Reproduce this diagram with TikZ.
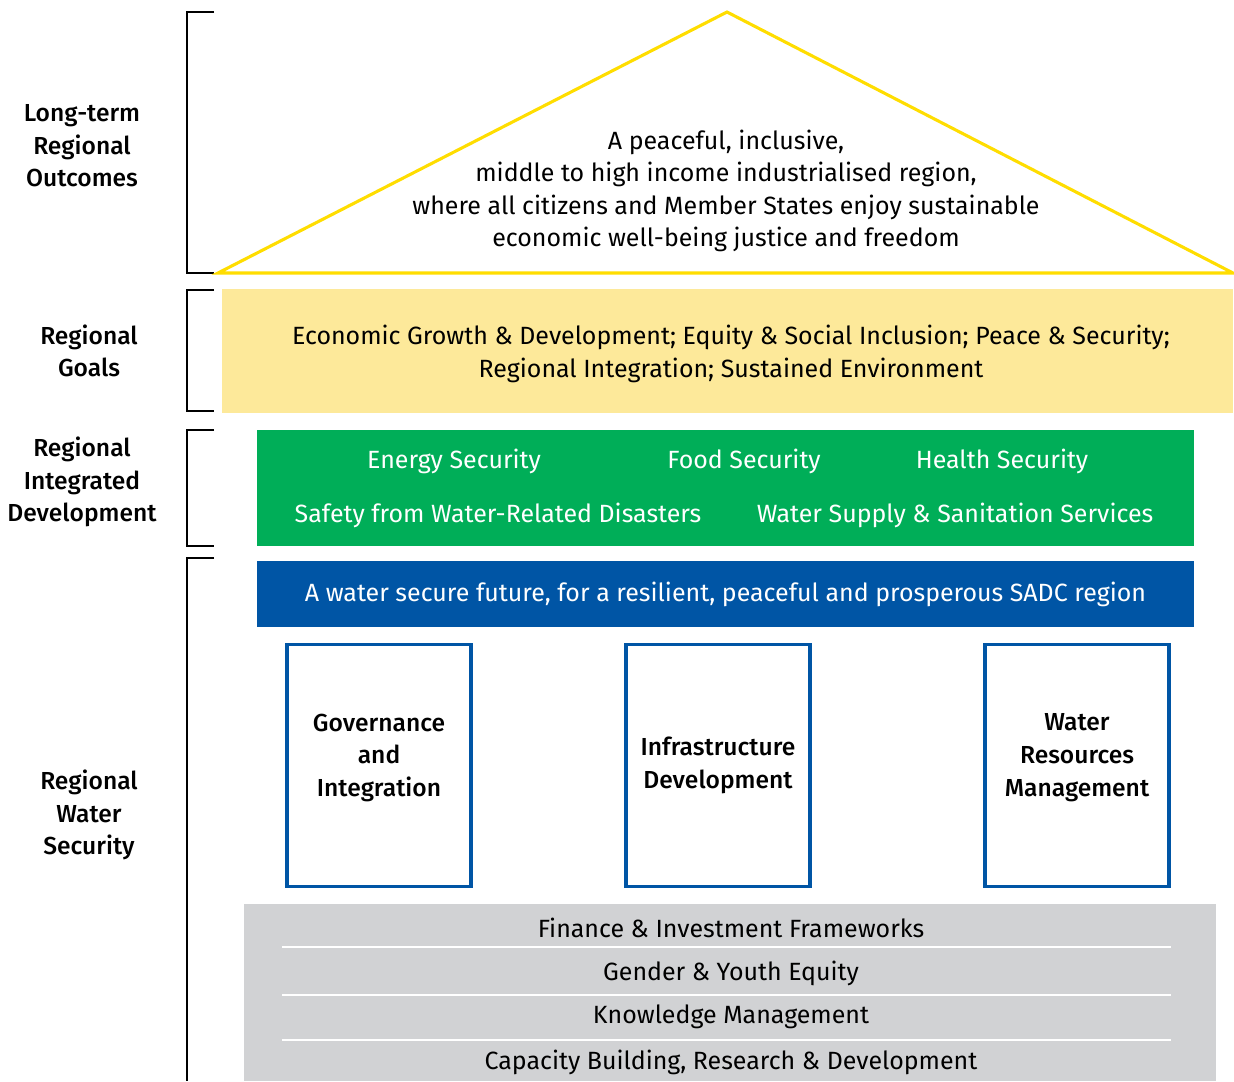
\documentclass[tikz,border=0pt]{standalone}
\usepackage{fontspec}
\setmainfont{Fira Sans}[BoldFont={Fira Sans Medium}]
\usepackage{tikz}
\usetikzlibrary{positioning}
\definecolor{sadcyellow}{HTML}{FFDD00}
\definecolor{sadcpale}{HTML}{FDE99A}
\definecolor{sadcgreen}{HTML}{00AE58}
\definecolor{sadcblue}{HTML}{0055A5}
\definecolor{sadcgrey}{HTML}{D1D2D4}
\tikzstyle{label} = [align=center, font=\fontsize{17.5}{23}\selectfont\bfseries]
\tikzstyle{bracket} = [line width=1.4pt, black]
\tikzstyle{band} = [rectangle, inner sep=0pt, align=center]
\tikzstyle{pillar} = [rectangle, draw=sadcblue, line width=2.2pt, fill=white,
minimum width=4.6cm, minimum height=6.05cm, align=center,
font=\fontsize{17.5}{23.3}\selectfont\bfseries]
\tikzstyle{btext} = [align=center, font=\fontsize{17.75}{23}\selectfont]

\begin{document}
\begin{tikzpicture}[x=0.025cm, y=-0.025cm]
        \useasboundingbox (0,0) rectangle (1234,1081);
        % left brackets
        \draw [bracket] (214,12) -| (187,273) -- (214,273);
        \draw [bracket] (214,290) -| (187,411) -- (214,411);
        \draw [bracket] (214,430) -| (187,546) -- (214,546);
        \draw [bracket] (214,558) -| (187,1081);
        \node (Outcomes) [label] at (82,146) {Long-term\\Regional\\Outcomes};
        \node (Goals) [label] at (89,351) {Regional\\Goals};
        \node (Integrated) [label] at (82,482) {Regional\\Integrated\\Development};
        \node (WaterSec) [label] at (89,815) {Regional\\Water\\Security};

        % roof
        \draw [sadcyellow, line width=2.2pt, line join=miter] (218,273) -- (727,12) -- (1233,273) -- cycle;
        \node (Vision) [btext] at (726,191) {A peaceful, inclusive,\\middle to high income industrialised region,\\where all citizens and Member States enjoy sustainable\\economic well-being justice and freedom};

        % bands
        \node (GoalBand) [band, fill=sadcpale, minimum width=25.275cm, minimum height=3.1cm] at (727.5,351) {};
        \node (GoalText) [btext] at (731,354) {Economic Growth \& Development; Equity \& Social Inclusion; Peace \& Security;\\Regional Integration; Sustained Environment};
        \node (DevBand) [band, fill=sadcgreen, minimum width=23.425cm, minimum height=2.9cm] at (725.5,488) {};
        \node (Energy) [btext, text=white] at (454,461) {Energy Security};
        \node (Food) [btext, text=white] at (744,461) {Food Security};
        \node (Health) [btext, text=white] at (1002,461) {Health Security};
        \node (Disaster) [btext, text=white] at (498,515) {Safety from Water-Related Disasters};
        \node (Supply) [btext, text=white] at (955,515) {Water Supply \& Sanitation Services};
        \node (VisionBand) [band, fill=sadcblue, minimum width=23.425cm, minimum height=1.65cm,
        text=white, font=\fontsize{17.75}{23}\selectfont] at (725.5,594) {A water secure future, for a resilient, peaceful and prosperous SADC region};

        % pillars
        \node (Governance) [pillar] at (379,765.5) {Governance\\and\\Integration\\[-0.3cm]};
        \node (Infra) [pillar] at (718,765.5) {Infrastructure\\Development};
        \node (WRM) [pillar] at (1077,765.5) {Water\\Resources\\Management\\[-0.3cm]};

        % foundation
        \node (Base) [band, fill=sadcgrey, minimum width=24.3cm, minimum height=4.425cm] at (730,992.5) {};
        \draw [white, line width=1.5pt] (282,947) -- (1171,947);
        \draw [white, line width=1.5pt] (282,995) -- (1171,995);
        \draw [white, line width=1.5pt] (282,1040) -- (1171,1040);
        \node (Finance) [btext] at (731,928) {Finance \& Investment Frameworks};
        \node (Gender) [btext] at (731,973) {Gender \& Youth Equity};
        \node (Knowledge) [btext] at (731,1017) {Knowledge Management};
        \node (Capacity) [btext] at (731,1062) {Capacity Building, Research \& Development};
\end{tikzpicture}
\end{document}
